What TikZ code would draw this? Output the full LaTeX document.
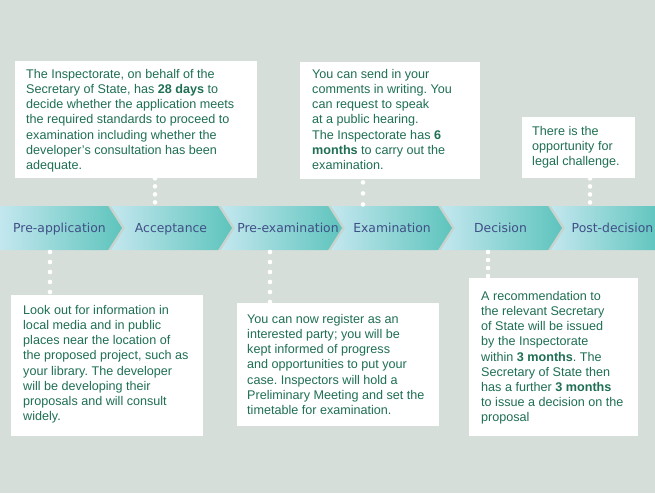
\documentclass[tikz,border=0pt]{standalone}
\usepackage{fontspec}
\newfontfamily\boxfont{Liberation Sans}
\newfontfamily\chevfont{DejaVu Sans}
\definecolor{bg}{HTML}{D6DED9}
\definecolor{txtgreen}{HTML}{1F6F52}
\definecolor{chevtxt}{HTML}{404F86}
\definecolor{chevlight}{HTML}{C3E7EF}
\definecolor{chevdark}{HTML}{5EC4BD}
\definecolor{gapgrey}{HTML}{C9D3CE}
\frenchspacing
\begin{document}
\begin{tikzpicture}[x=1pt,y=-1pt,
  infobox/.style={fill=white, draw=none, inner sep=0pt, anchor=north west},
  infotext/.style={anchor=north west, inner sep=0pt, align=left, text=txtgreen,
    font=\boxfont\fontsize{12.6}{15.2}\selectfont},
  chevlabel/.style={anchor=base, inner sep=0pt, text=chevtxt,
    font=\chevfont\fontsize{12.4}{14}\selectfont},
  dotline/.style={draw=white, line width=4.6pt, line cap=round, dash pattern=on 0pt off #1},
  dotline/.default=8pt,
  chevfill/.style={left color=chevlight, right color=chevdark, draw=none}
]
\fill[bg] (0,0) rectangle (655,493);
\useasboundingbox (0,0) rectangle (655,493);

% band
\fill[gapgrey] (0,206) rectangle (655,250);
\shade[chevfill] (0,206) -- (108,206) -- (122,228) -- (108,250) -- (0,250) -- cycle;
\foreach \i in {1,2,3,4}{
  \shade[chevfill] (110*\i+1,206) -- (110*\i+108,206) -- (110*\i+122,228)
    -- (110*\i+108,250) -- (110*\i+1,250) -- (110*\i+15,228) -- cycle;
}
\shade[chevfill] (551,206) -- (660,206) -- (660,250) -- (551,250) -- (565,228) -- cycle;

\node[chevlabel] (l1) at (59.5,232) {Pre-application};
\node[chevlabel] (l2) at (171,232) {Acceptance};
\node[chevlabel] (l3) at (288,232) {Pre-examination};
\node[chevlabel] (l4) at (392,232) {Examination};
\node[chevlabel] (l5) at (500.5,232) {Decision};
\node[chevlabel] (l6) at (612.5,232) {Post-decision};

% boxes
\node[infobox, minimum width=242pt, minimum height=117pt] (boxA) at (15,61) {};
\node[infobox, minimum width=180pt, minimum height=117pt] (boxB) at (300,62) {};
\node[infobox, minimum width=113pt, minimum height=61pt] (boxC) at (522,117) {};
\node[infobox, minimum width=192pt, minimum height=141pt] (boxD) at (11,295) {};
\node[infobox, minimum width=202pt, minimum height=123pt] (boxE) at (237,303) {};
\node[infobox, minimum width=169pt, minimum height=158pt] (boxF) at (469,278) {};

\node[infotext] (tA) at (26,69) {The Inspectorate, on behalf of the\\
Secretary of State, has \textbf{28 days} to\\
decide whether the application meets\\
the required standards to proceed to\\
examination including whether the\\
developer’s consultation has been\\
adequate.};

\node[infotext] (tB) at (312,69) {You can send in your\\
comments in writing. You\\
can request to speak\\
at a public hearing.\\
The Inspectorate has \textbf{6}\\
\textbf{months} to carry out the\\
examination.};

\node[infotext] (tC) at (532,126) {There is the\\
opportunity for\\
legal challenge.};

\node[infotext] (tD) at (23,305) {Look out for information in\\
local media and in public\\
places near the location of\\
the proposed project, such as\\
your library. The developer\\
will be developing their\\
proposals and will consult\\
widely.};

\node[infotext] (tE) at (247,314) {You can now register as an\\
interested party; you will be\\
kept informed of progress\\
and opportunities to put your\\
case. Inspectors will hold a\\
Preliminary Meeting and set the\\
timetable for examination.};

\node[infotext] (tF) at (481,291) {A recommendation to\\
the relevant Secretary\\
of State will be issued\\
by the Inspectorate\\
within \textbf{3 months}. The\\
Secretary of State then\\
has a further \textbf{3 months}\\
to issue a decision on the\\
proposal};

% connector end points on the band
\coordinate (kA) at (155,206);
\coordinate (kB) at (363,206);
\coordinate (kC) at (590,206);
\coordinate (kD) at (50,252);
\coordinate (kE) at (270,252);
\coordinate (kF) at (488,252);

% dotted connectors
\draw[dotline] (boxA.south -| kA) -- (kA);
\draw[dotline=11pt, dash phase=8pt] (boxB.south -| kB) -- (kB);
\draw[dotline] (boxC.south -| kC) -- (kC);
\draw[dotline=10pt] (kD) -- (boxD.north -| kD);
\draw[dotline=10pt] (kE) -- (boxE.north -| kE);
\draw[dotline] (kF) -- (boxF.north -| kF);
\end{tikzpicture}
\end{document}
